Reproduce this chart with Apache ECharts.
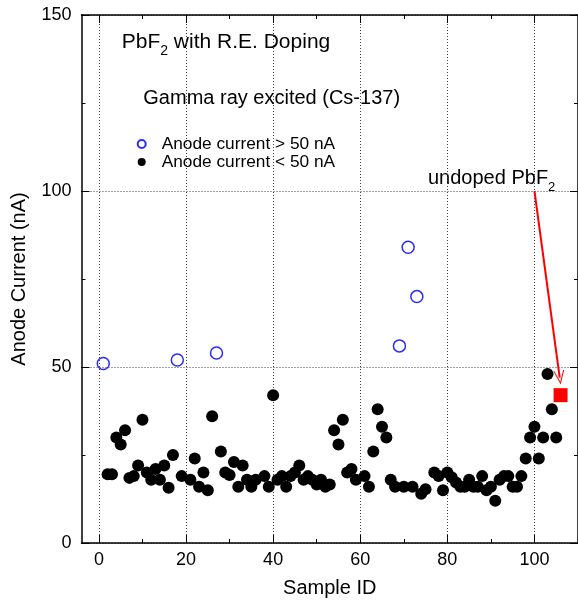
<!DOCTYPE html>
<html>
<head>
<meta charset="utf-8">
<title>PbF2 anode current</title>
<script src="https://cdn.jsdelivr.net/npm/echarts@6/dist/echarts.min.js"></script>
<style>
  html, body { margin: 0; padding: 0; background: #fff; }
  #chart { width: 578px; height: 603px; }
</style>
</head>
<body>
<div id="chart"></div>
<script>
// sample IDs / anode current (nA)
var highIds  = [1, 18, 27, 69, 71, 73];
var highVals = [51, 52, 54, 56, 84, 70];

var lowIds  = [2, 3, 4, 5, 6, 7, 8, 9, 10, 11, 12, 13, 14, 15, 16, 17, 19, 21, 22, 23,
               24, 25, 26, 28, 29, 30, 31, 32, 33, 34, 35, 36, 38, 39, 40, 41, 42, 43, 44, 45,
               46, 47, 48, 49, 50, 51, 52, 53, 54, 55, 56, 57, 58, 59, 61, 62, 63, 64, 65, 66,
               67, 68, 70, 72, 74, 75, 77, 78, 79, 80, 81, 82, 83, 84, 85, 86, 87, 88, 89, 90,
               91, 92, 93, 94, 95, 96, 97, 98, 99, 100, 101, 102, 103, 104, 105];
var lowVals = [19.5, 19.5, 30, 28, 32, 18.5, 19, 22, 35, 20, 18, 21, 18, 22, 15.7, 25, 19, 18, 24, 16,
               20, 15, 36, 26, 20, 19.3, 23, 16, 22, 18, 16, 18, 19, 16, 42, 18, 19, 16, 19, 20,
               22, 18, 19, 18, 16.6, 18, 16, 16.6, 32, 28, 35, 20, 21, 18, 19, 16, 26, 38, 33, 30,
               18, 16, 16, 16, 14, 15.3, 20, 19, 15, 20, 18.7, 17.2, 16, 16, 18, 16, 16, 19, 15, 16,
               12, 18, 19, 19, 16, 16, 19, 24, 30, 33, 24, 30, 48, 38, 30];

var undopedIds  = [106];
var undopedVals = [42];
var arrowFrom = [100, 100];
var arrowTo   = [105.8, 47];

var xMajor = [0, 20, 40, 60, 80, 100];
var xMinor = [10, 30, 50, 70, 90];

function pairs(xs, ys) {
  var out = [];
  for (var i = 0; i < xs.length; i++) out.push([xs[i], ys[i]]);
  return out;
}

var FONT = 'Liberation Sans, Arial, Helvetica, sans-serif';
var gridLine = { show: true, lineStyle: { color: '#444', width: 1, type: [1, 2] } };
var frameLine = { show: true, onZero: false, lineStyle: { color: '#000', width: 1.5 } };

function xAx(pos, ticks, len, main) {
  return {
    type: 'value', position: pos, min: -4, max: 110,
    axisLine: main ? frameLine : { show: false, onZero: false },
    axisTick: { show: true, inside: true, length: len, customValues: ticks,
                lineStyle: { color: '#000', width: 1 } },
    axisLabel: main && pos === 'bottom'
      ? { show: true, customValues: ticks, color: '#000', fontSize: 18, fontFamily: FONT, margin: 8 }
      : { show: false },
    splitLine: main && pos === 'bottom' ? gridLine : { show: false },
    name: main && pos === 'bottom' ? 'Sample ID' : '',
    nameLocation: 'middle', nameGap: 35,
    nameTextStyle: { color: '#000', fontSize: 20, fontFamily: FONT }
  };
}

function yAx(pos, main) {
  return {
    type: 'value', position: pos, min: 0, max: 150, interval: 50,
    axisLine: frameLine,
    axisTick: { show: true, inside: true, length: 8, lineStyle: { color: '#000', width: 1 } },
    minorTick: { show: true, splitNumber: 2, length: 4, lineStyle: { color: '#000', width: 1 } },
    axisLabel: main ? { show: true, color: '#000', fontSize: 18, fontFamily: FONT, margin: 10 } : { show: false },
    splitLine: main ? gridLine : { show: false },
    name: main ? 'Anode Current (nA)' : '',
    nameLocation: 'middle', nameGap: 52,
    nameTextStyle: { color: '#000', fontSize: 20, fontFamily: FONT }
  };
}

var chart = echarts.init(document.getElementById('chart'));
chart.setOption({
  animation: false,
  backgroundColor: '#fff',
  grid: { left: 81.5, right: -3, top: 15, bottom: 58.3, containLabel: false },
  xAxis: [
    xAx('bottom', xMajor, 8, true),
    xAx('bottom', xMinor, 4, false),
    xAx('top', xMajor, 8, true),
    xAx('top', xMinor, 4, false)
  ],
  yAxis: [yAx('left', true), yAx('right', false)],
  legend: {
    orient: 'vertical', left: 131.7, top: 130.5, itemGap: 1,
    itemWidth: 30, itemHeight: 8,
    textStyle: { color: '#000', fontSize: 17.3, lineHeight: 17, fontFamily: FONT },
    data: ['Anode current > 50 nA', 'Anode current < 50 nA']
  },
  graphic: [
    { type: 'text', x: 121.7, y: 45, silent: true,
      style: { text: '{n|PbF}{s|2}{n| with R.E. Doping}', verticalAlign: 'middle', fill: '#000',
        rich: { n: { fontSize: 21, fontFamily: FONT, padding: [0, 0, 5, 0] },
                s: { fontSize: 14, fontFamily: FONT, verticalAlign: 'bottom' } } } },
    { type: 'text', x: 143.3, y: 98, silent: true,
      style: { text: 'Gamma ray excited (Cs-137)', fill: '#000', font: '20px ' + FONT, verticalAlign: 'middle' } },
    { type: 'text', x: 428, y: 181, silent: true,
      style: { text: '{n|undoped PbF}{s|2}', verticalAlign: 'middle', fill: '#000',
        rich: { n: { fontSize: 20, fontFamily: FONT, padding: [0, 0, 5, 0] },
                s: { fontSize: 13, fontFamily: FONT, verticalAlign: 'bottom' } } } }
  ],
  series: [
    { name: 'Anode current > 50 nA', type: 'scatter', symbol: 'circle', symbolSize: 12,
      itemStyle: { color: 'rgba(255,255,255,0)', borderColor: '#2b2bff', borderWidth: 1.5, opacity: 1 },
      data: pairs(highIds, highVals) },
    { name: 'Anode current < 50 nA', type: 'scatter', symbol: 'circle', symbolSize: 12,
      itemStyle: { color: '#000', opacity: 1 },
      data: pairs(lowIds, lowVals) },
    { name: 'undoped PbF2', type: 'scatter', symbol: 'rect', symbolSize: 14,
      itemStyle: { color: '#ff0000', opacity: 1 },
      data: pairs(undopedIds, undopedVals),
      markLine: {
        silent: true, animation: false,
        symbol: ['none', 'path://M0,20 L10,0 L20,20 L18,20 L10,4 L2,20 Z'],
        symbolSize: [11, 14],
        label: { show: false },
        lineStyle: { color: '#ff0000', width: 2, type: 'solid' },
        data: [[{ coord: arrowFrom }, { coord: arrowTo }]]
      } }
  ]
});
</script>
</body>
</html>
